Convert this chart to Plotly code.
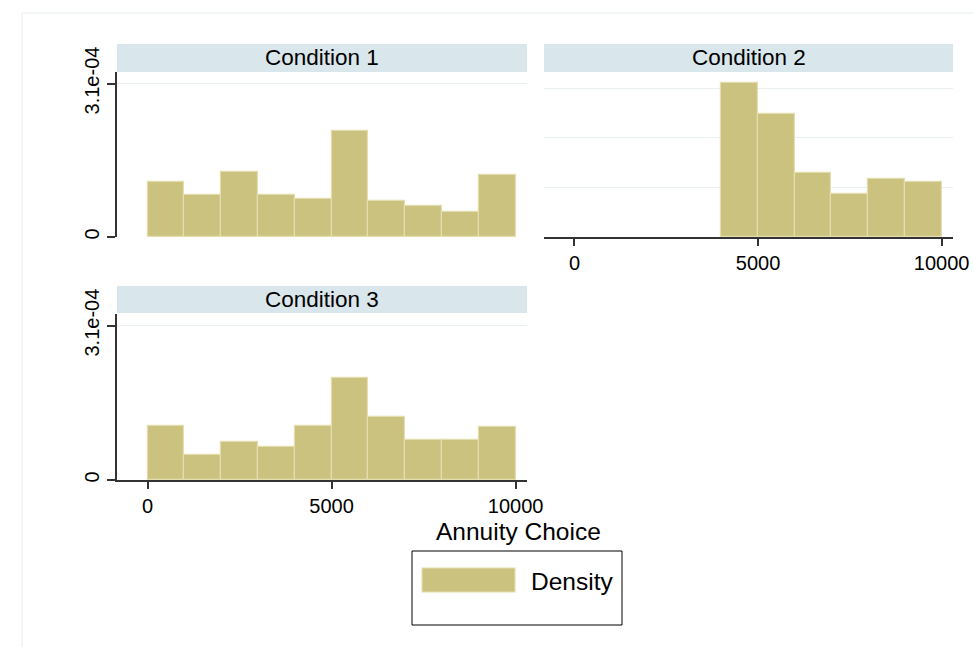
import plotly.graph_objects as go

# ---- data (density per bin of width 1000) ----
bin_width = 1000
cond1_left = [0, 1000, 2000, 3000, 4000, 5000, 6000, 7000, 8000, 9000]
cond1_density = [1.12e-4, 0.845e-4, 1.305e-4, 0.845e-4, 0.76e-4, 2.15e-4, 0.72e-4, 0.625e-4, 0.515e-4, 1.245e-4]
cond2_left = [4000, 5000, 6000, 7000, 8000, 9000]
cond2_density = [3.11e-4, 2.48e-4, 1.29e-4, 0.86e-4, 1.17e-4, 1.12e-4]
cond3_left = [0, 1000, 2000, 3000, 4000, 5000, 6000, 7000, 8000, 9000]
cond3_density = [1.09e-4, 0.505e-4, 0.77e-4, 0.67e-4, 1.09e-4, 2.055e-4, 1.27e-4, 0.795e-4, 0.795e-4, 1.065e-4]
panel_titles = ["Condition 1", "Condition 2", "Condition 3"]
x_ticks = [0, 5000, 10000]
x_ticktext = ["0", "5000", "10000"]
y_ticks = [0, 3.1e-4]
y_ticktext = ["0", "3.1e-04"]
y_grid_c2 = [1e-4, 2e-4, 3e-4]
x_title = "Annuity Choice"
legend_label = "Density"

W, H = 974, 647
FONT = "Liberation Sans, Arial, Helvetica, sans-serif"
BAR = "#CAC27E"
BAR_LINE = "#E4DEAE"
STRIP = "#D9E6EB"
GRID = "#E8F0F2"
AXIS = "#333333"

def px(x):
    return x / W

def py(y):
    return 1 - y / H

fig = go.Figure()

def centers(lefts):
    return [l + bin_width / 2 for l in lefts]

for i, (lefts, dens) in enumerate([(cond1_left, cond1_density),
                                     (cond2_left, cond2_density),
                                     (cond3_left, cond3_density)]):
    sfx = "" if i == 0 else str(i + 1)
    fig.add_trace(go.Bar(
        x=centers(lefts), y=dens, width=bin_width,
        marker=dict(color=BAR, line=dict(color=BAR_LINE, width=1.2)),
        xaxis="x" + sfx, yaxis="y" + sfx, showlegend=False,
        hoverinfo="x+y",
    ))

xr = [-830, 10310]
yr = [0, 3.333e-4]

# panel pixel boxes: (left, right, top, bottom)
p1 = (117, 527, 72, 237)
p2 = (544, 953, 72, 237)
p3 = (117, 527, 314, 480)

tickfont = dict(family=FONT, size=20, color="#000000")

def xdom(p):
    return [px(p[0]), px(p[1])]

def ydom(p):
    return [py(p[3]), py(p[2])]

layout = dict(
    width=W, height=H,
    margin=dict(l=0, r=0, t=0, b=0, autoexpand=False),
    paper_bgcolor="white", plot_bgcolor="white",
    bargap=0,
    showlegend=False,
    font=dict(family=FONT, color="#000000"),
    # panel 1
    xaxis=dict(domain=xdom(p1), range=xr, anchor="y", showline=False, automargin=False,
               showticklabels=False, ticks="", showgrid=False, zeroline=False),
    yaxis=dict(domain=ydom(p1), range=yr, anchor="x", showline=True, automargin=False,
               linecolor=AXIS, linewidth=1.5, ticks="outside", ticklen=8,
               tickcolor=AXIS, tickwidth=1.5, tickvals=y_ticks, ticktext=y_ticktext,
               tickangle=-90, tickfont=tickfont, showgrid=True, gridcolor=GRID,
               gridwidth=1, zeroline=False),
    # panel 2
    xaxis2=dict(domain=xdom(p2), range=xr, anchor="y2", showline=True, automargin=False,
                linecolor=AXIS, linewidth=1.5, ticks="outside", ticklen=7,
                tickcolor=AXIS, tickwidth=1.5, tickvals=x_ticks, ticktext=x_ticktext,
                tickfont=tickfont, showgrid=False, zeroline=False),
    yaxis2=dict(domain=ydom(p2), range=yr, anchor="x2", showline=False, automargin=False,
                showticklabels=False, ticks="", tickvals=y_grid_c2,
                showgrid=True, gridcolor=GRID, gridwidth=1, zeroline=False),
    # panel 3
    xaxis3=dict(domain=xdom(p3), range=xr, anchor="y3", showline=True, automargin=False,
                linecolor=AXIS, linewidth=1.5, ticks="outside", ticklen=7,
                tickcolor=AXIS, tickwidth=1.5, tickvals=x_ticks, ticktext=x_ticktext,
                tickfont=tickfont, showgrid=False, zeroline=False),
    yaxis3=dict(domain=ydom(p3), range=yr, anchor="x3", showline=True, automargin=False,
                linecolor=AXIS, linewidth=1.5, ticks="outside", ticklen=8,
                tickcolor=AXIS, tickwidth=1.5, tickvals=y_ticks, ticktext=y_ticktext,
                tickangle=-90, tickfont=tickfont, showgrid=True, gridcolor=GRID,
                gridwidth=1, zeroline=False),
)
fig.update_layout(**layout)

shapes = []
annotations = []

# outer faint graph-region border
shapes.append(dict(type="rect", xref="paper", yref="paper",
                   x0=px(22), x1=px(990), y0=py(660), y1=py(13),
                   line=dict(color="#E6EEF0", width=1), fillcolor="rgba(0,0,0,0)",
                   layer="below"))

# strips
for p, title, top in [(p1, panel_titles[0], 44), (p2, panel_titles[1], 44), (p3, panel_titles[2], 286)]:
    bottom = p[2] if p is not p3 else 313
    shapes.append(dict(type="rect", xref="paper", yref="paper",
                       x0=px(p[0]), x1=px(p[1]), y0=py(bottom), y1=py(top),
                       line=dict(width=0), fillcolor=STRIP, layer="below"))
    annotations.append(dict(text=title, xref="paper", yref="paper",
                            x=px((p[0] + p[1]) / 2), y=py((top + bottom) / 2),
                            xanchor="center", yanchor="middle", showarrow=False,
                            font=dict(family=FONT, size=22.5, color="#000000")))

# x-axis title
annotations.append(dict(text=x_title, xref="paper", yref="paper",
                        x=px(518), y=py(531), xanchor="center", yanchor="middle",
                        showarrow=False, font=dict(family=FONT, size=24.5, color="#000000")))

# legend box
shapes.append(dict(type="rect", xref="paper", yref="paper",
                   x0=px(412), x1=px(622), y0=py(625), y1=py(551),
                   line=dict(color="#000000", width=1), fillcolor="white"))
shapes.append(dict(type="rect", xref="paper", yref="paper",
                   x0=px(422), x1=px(515), y0=py(592), y1=py(568),
                   line=dict(color=BAR_LINE, width=1.2), fillcolor=BAR))
annotations.append(dict(text=legend_label, xref="paper", yref="paper",
                        x=px(529), y=py(581), xanchor="left", yanchor="middle",
                        showarrow=False, font=dict(family=FONT, size=24.5, color="#000000")))

fig.update_layout(shapes=shapes, annotations=annotations)

fig.write_html(
    "out.html",
    config={"displayModeBar": False},
    post_script="document.body.style.margin='0';document.body.style.overflow='hidden';",
)
